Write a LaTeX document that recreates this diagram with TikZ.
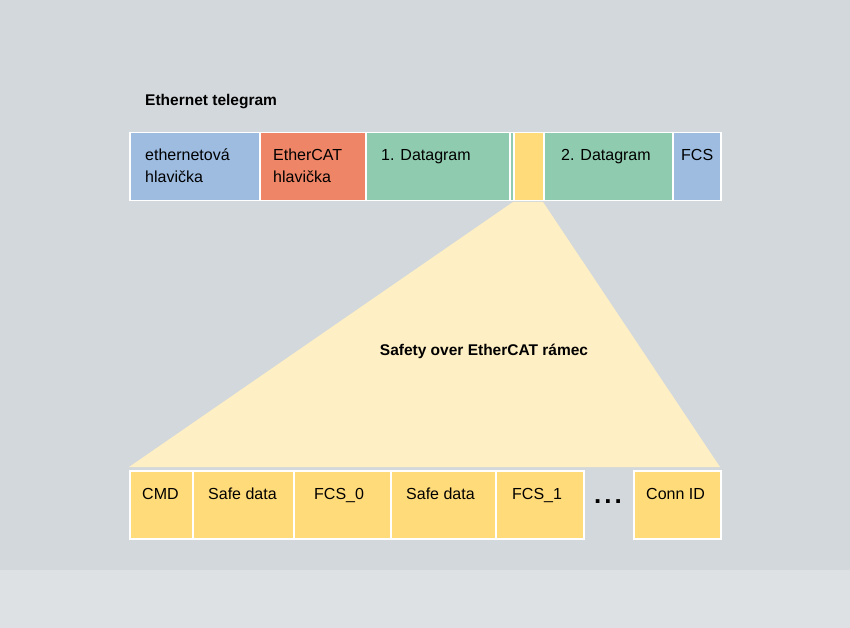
\documentclass[tikz,border=0pt]{standalone}
\usepackage{fontspec}
\setmainfont{Liberation Sans}
\usetikzlibrary{positioning}
\definecolor{bgGray}{HTML}{D3D8DC}
\definecolor{bgLight}{HTML}{DDE1E4}
\definecolor{ethBlue}{HTML}{9DBCE0}
\definecolor{ecatRed}{HTML}{EE8566}
\definecolor{dgGreen}{HTML}{8FCBAF}
\definecolor{soeYellow}{HTML}{FFDB7A}
\definecolor{soeLight}{HTML}{FFEFC4}
\begin{document}
\begin{tikzpicture}[
        x=1pt, y=-1pt,
        field/.style={draw=white, line width=1.5pt, fill=#1, anchor=north west, inner sep=0pt,
            minimum height=68pt},
        lbl/.style={anchor=north west, font=\fontsize{16}{22}\selectfont, align=left, inner sep=0pt},
        title/.style={font=\bfseries\fontsize{15.5}{18}\selectfont, inner sep=0pt}
    ]
    \useasboundingbox (0,0) rectangle (850,628);
    \fill[bgGray] (0,0) rectangle (850,570);
    \fill[bgLight] (0,570) rectangle (850,628);

    % Zoom wedge
    \coordinate (wedgeL) at (513,202);
    \coordinate (wedgeR) at (543,202);
    \fill[soeLight] (wedgeL) -- (wedgeR) -- (720,467) -- (129,467) -- cycle;

    % Ethernet telegram
    \node[title, anchor=west] (teltitle) at (145,102) {Ethernet telegram};
    \node[field=ethBlue, minimum width=130pt] (ethhdr) at (129,132) {};
    \node[field=ecatRed, minimum width=106pt] (ecathdr) at (259,132) {};
    \node[field=dgGreen, minimum width=144pt] (dg1) at (365,132) {};
    \node[field=dgGreen, minimum width=4pt] (dgpad) at (509,132) {};
    \node[field=soeYellow, minimum width=30pt] (soe) at (513,132) {};
    \node[field=dgGreen, minimum width=129pt] (dg2) at (543,132) {};
    \node[field=ethBlue, minimum width=48pt] (fcs) at (672,132) {};
    \node[lbl] at (145,149) {ethernetová\\hlavička};
    \node[lbl] at (273,149) {EtherCAT\\hlavička};
    \node[lbl] at (381,149) {1. Datagram};
    \node[lbl] at (561,149) {2. Datagram};
    \node[lbl] at (681,149) {FCS};

    \node[title] (soetitle) at (484,351) {Safety over EtherCAT rámec};

    % Safety frame
    \node[field=soeYellow, minimum width=63pt] (cmd) at (129,470) {};
    \node[field=soeYellow, minimum width=101pt] (safe0) at (192,470) {};
    \node[field=soeYellow, minimum width=97pt] (fcs0) at (293,470) {};
    \node[field=soeYellow, minimum width=105pt] (safe1) at (390,470) {};
    \node[field=soeYellow, minimum width=88pt] (fcs1) at (495,470) {};
    \node[field=soeYellow, minimum width=87pt] (connid) at (633,470) {};
    \node[lbl] at (142,488) {CMD};
    \node[lbl] at (208,488) {Safe data};
    \node[lbl] at (314,488) {FCS\_0};
    \node[lbl] at (406,488) {Safe data};
    \node[lbl] at (512,488) {FCS\_1};
    \node[lbl] at (646,488) {Conn ID};
    \node[font=\bfseries\fontsize{26}{26}\selectfont, inner sep=0pt] (dots) at (608,502) {.\kern3pt.\kern3pt.};
\end{tikzpicture}
\end{document}
